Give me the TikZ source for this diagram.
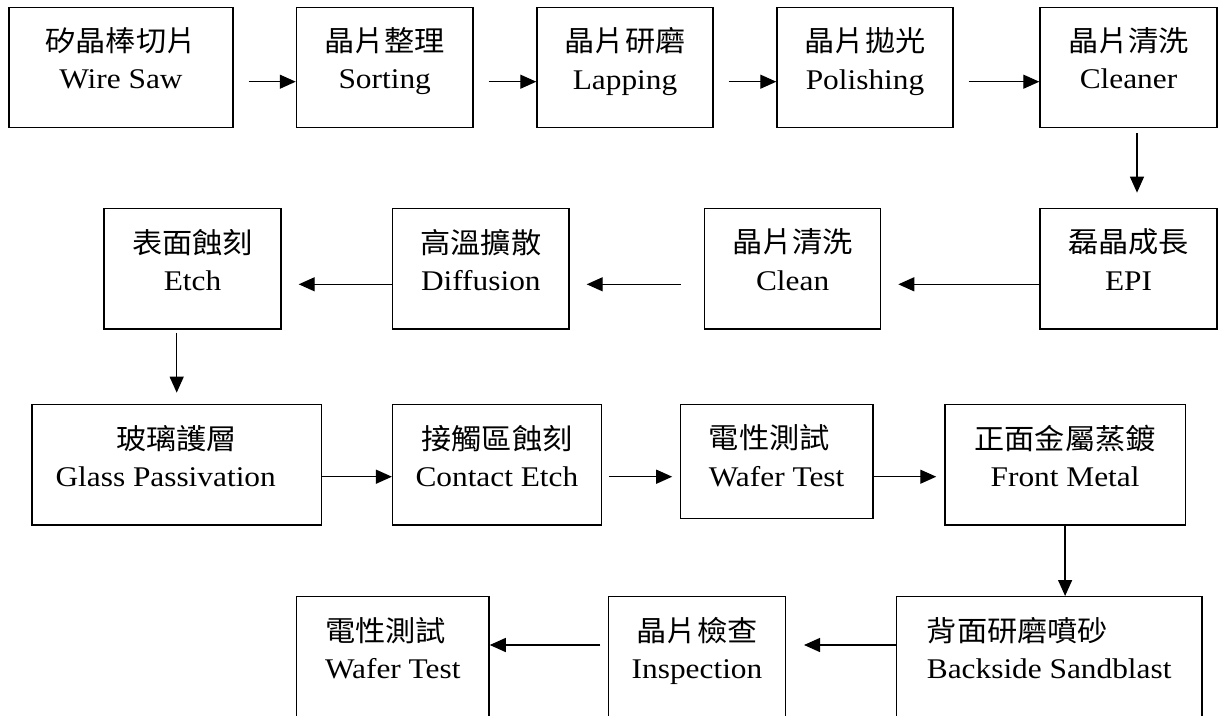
\documentclass[tikz,border=0pt]{standalone}
\usepackage{fontspec}
\setmainfont{Liberation Serif}[FakeStretch=1.1]
\newfontfamily\cjk{Noto Sans CJK TC}[FakeStretch=1.06]
\usetikzlibrary{arrows.meta}
\newcommand\twoline[3][18pt]{{\cjk #2}\\#3\rule[-#1]{0pt}{0pt}}

\begin{document}
\begin{tikzpicture}[x=1pt,y=-1pt,
  stepbox/.style={draw, line width=1.4pt, rectangle, inner sep=0pt, align=center, font=\fontsize{28.5}{37.4}\selectfont},
  flow/.style={line width=1.3pt, -{Triangle[length=16pt,width=14pt]}}]
\useasboundingbox (0,0) rectangle (1218,715);
\node[stepbox, minimum width=224pt, minimum height=120pt] (saw) at (121,67.3) {\twoline{矽晶棒切片}{Wire Saw}};
\node[stepbox, minimum width=176.5pt, minimum height=120pt] (sort) at (384.7,67.3) {\twoline{晶片整理}{Sorting}};
\node[stepbox, minimum width=176pt, minimum height=120pt] (lap) at (625,67.3) {\twoline{晶片研磨}{Lapping}};
\node[stepbox, minimum width=176pt, minimum height=120pt] (pol) at (865,67.3) {\twoline{晶片拋光}{Polishing}};
\node[stepbox, minimum width=177pt, minimum height=120pt] (cln1) at (1128.5,67.3) {\twoline{晶片清洗}{Cleaner}};
\node[stepbox, minimum width=177pt, minimum height=120.7pt] (epi) at (1128.5,268.7) {\twoline{磊晶成長}{EPI}};
\node[stepbox, minimum width=176pt, minimum height=120.7pt] (cln2) at (792.6,268.7) {\twoline{晶片清洗}{Clean}};
\node[stepbox, minimum width=176.4pt, minimum height=120.7pt] (diff) at (480.8,268.7) {\twoline{高溫擴散}{Diffusion}};
\node[stepbox, minimum width=177pt, minimum height=120.7pt] (etch) at (192.5,268.7) {\twoline{表面蝕刻}{Etch}};
\node[stepbox, minimum width=289.4pt, minimum height=120.7pt] (glass) at (176.7,464.7) {\twoline{玻璃護層}{Glass Passivation\kern22pt}};
\node[stepbox, minimum width=208.6pt, minimum height=120.7pt] (cont) at (496.9,464.7) {\twoline{接觸區蝕刻}{Contact Etch}};
\node[stepbox, align=left, minimum width=192.4pt, minimum height=114pt] (test1) at (776.6,461.3) {\twoline[12pt]{電性測試}{Wafer Test}};
\node[stepbox, minimum width=240.3pt, minimum height=120.7pt] (front) at (1065.1,464.7) {\twoline{正面金屬蒸鍍}{Front Metal}};
\node[stepbox, align=left, minimum width=305.6pt, minimum height=120pt] (back) at (1049.2,656.7) {\twoline{背面研磨噴砂}{Backside Sandblast}};
\node[stepbox, minimum width=176.6pt, minimum height=120pt] (insp) at (697,656.7) {\twoline{晶片檢查}{Inspection}};
\node[stepbox, align=left, minimum width=192.5pt, minimum height=120pt] (test2) at (392.8,656.7) {\twoline{電性測試}{Wafer Test}};
\draw[flow, shorten <=15pt] ([yshift=-14.4pt]saw.east) -- ([yshift=-14.4pt]sort.west);
\draw[flow, shorten <=15pt] ([yshift=-14.4pt]sort.east) -- ([yshift=-14.4pt]lap.west);
\draw[flow, shorten <=15pt] ([yshift=-14.4pt]lap.east) -- ([yshift=-14.4pt]pol.west);
\draw[flow, shorten <=15pt] ([yshift=-14.4pt]pol.east) -- ([yshift=-14.4pt]cln1.west);
\draw[flow, shorten <=5pt, shorten >=15pt] ([xshift=8.5pt]cln1.south) -- ([xshift=8.5pt]epi.north);
\draw[flow, shorten >=17pt] ([yshift=-15.6pt]epi.west) -- ([yshift=-15.6pt]cln2.east);
\draw[flow, shorten <=23pt, shorten >=17pt] ([yshift=-15.6pt]cln2.west) -- ([yshift=-15.6pt]diff.east);
\draw[flow, shorten >=17pt] ([yshift=-15.6pt]diff.west) -- ([yshift=-15.6pt]etch.east);
\draw[flow, shorten <=3pt, shorten >=11pt] (etch.south -| glass.north) -- (glass.north);
\draw[flow] ([yshift=-12pt]glass.east) -- ([yshift=-12pt]cont.west);
\draw[flow, shorten <=7pt, shorten >=7.5pt] ([yshift=-12pt]cont.east) -- ([yshift=-12pt]cont.east -| test1.west);
\draw[flow, shorten >=8pt] ([yshift=-12pt]front.west -| test1.east) -- ([yshift=-12pt]front.west);
\draw[flow] (front.south) -- (front.south |- back.north);
\draw[flow, shorten >=18pt] ([yshift=11.7pt]back.west) -- ([yshift=11.7pt]insp.east);
\draw[flow, shorten <=7.7pt] ([yshift=11.7pt]insp.west) -- ([yshift=11.7pt]test2.east);
\end{tikzpicture}
\end{document}
